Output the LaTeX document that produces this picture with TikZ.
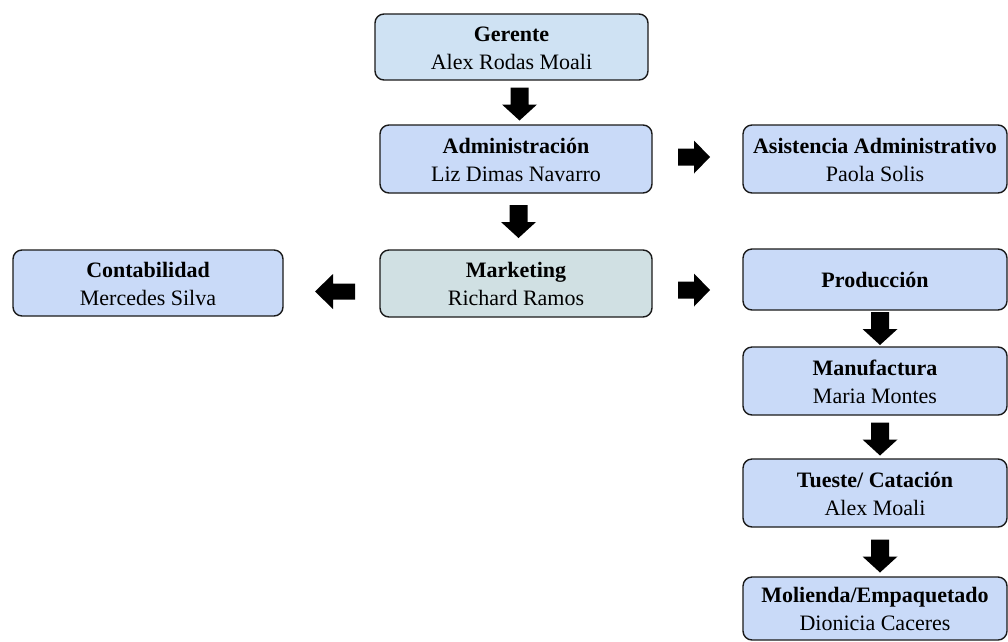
\documentclass[tikz,border=0pt]{standalone}
\usepackage{fontspec}
\setmainfont{Liberation Serif}
\usetikzlibrary{calc}
\definecolor{gerfill}{HTML}{CFE2F3}
\definecolor{boxfill}{HTML}{C9DAF8}
\definecolor{mktfill}{HTML}{D0E0E3}
\definecolor{edge}{HTML}{1A1A1A}
\newcommand{\ttl}[1]{\rule{0pt}{17pt}\textbf{#1}}
\tikzset{
  orgbox/.style={draw=edge, line width=1.4pt, rounded corners=9pt, fill=boxfill,
    align=center, inner sep=2pt, font=\fontsize{22}{28}\selectfont},
  darr/.pic={\fill[black] (-9,-16.5) -- (9,-16.5) -- (9,0.5) -- (17.5,0.5) -- (0,16.5) -- (-17.5,0.5) -- (-9,0.5) -- cycle;},
  rarr/.pic={\fill[black] (-16,-8.5) -- (0,-8.5) -- (0,-16.5) -- (16,0) -- (0,16.5) -- (0,8.5) -- (-16,8.5) -- cycle;},
  larr/.pic={\fill[black] (20,-8) -- (-2,-8) -- (-2,-17.5) -- (-20,0) -- (-2,17.5) -- (-2,8) -- (20,8) -- cycle;}
}
\begin{document}
\begin{tikzpicture}[x=1pt,y=-1pt]
\useasboundingbox (0,0) rectangle (1008,641);
\node[orgbox, fill=gerfill, minimum width=273pt, minimum height=66pt] (ger) at (511.5,47) {\ttl{Gerente}\\Alex Rodas Moali};
\node[orgbox, minimum width=272pt, minimum height=68pt] (adm) at (516,159) {\ttl{Administración}\\Liz Dimas Navarro};
\node[orgbox, fill=mktfill, minimum width=272pt, minimum height=67pt] (mkt) at (516,283.5) {\ttl{Marketing}\\Richard Ramos};
\node[orgbox, minimum width=270pt, minimum height=66pt] (con) at (148,283) {\ttl{Contabilidad}\\Mercedes Silva};
\node[orgbox, minimum width=264pt, minimum height=68pt] (asi) at (875,159) {\ttl{Asistencia Administrativo}\\Paola Solis};
\node[orgbox, minimum width=264pt, minimum height=61pt] (pro) at (875,279.5) {\textbf{Producción}};
\node[orgbox, minimum width=264pt, minimum height=68pt] (man) at (875,381) {\ttl{Manufactura}\\Maria Montes};
\node[orgbox, minimum width=264pt, minimum height=68pt] (tue) at (875,493) {\ttl{Tueste/ Catación}\\Alex Moali};
\node[orgbox, minimum width=264pt, minimum height=63pt] (mol) at (875,608.5) {\ttl{Molienda/Empaquetado}\\Dionicia Caceres};
\coordinate (a1) at (519.5,104);
\coordinate (a2) at (518.5,221.5);
\coordinate (a3) at (694,157);
\coordinate (a4) at (694,290);
\coordinate (a5) at (335,291.5);
\coordinate (a6) at (880,328.5);
\coordinate (a7) at (880,439);
\coordinate (a8) at (880,556);
\pic at (a1) {darr};
\pic at (a2) {darr};
\pic at (a3) {rarr};
\pic at (a4) {rarr};
\pic at (a5) {larr};
\pic at (a6) {darr};
\pic at (a7) {darr};
\pic at (a8) {darr};
\end{tikzpicture}
\end{document}
